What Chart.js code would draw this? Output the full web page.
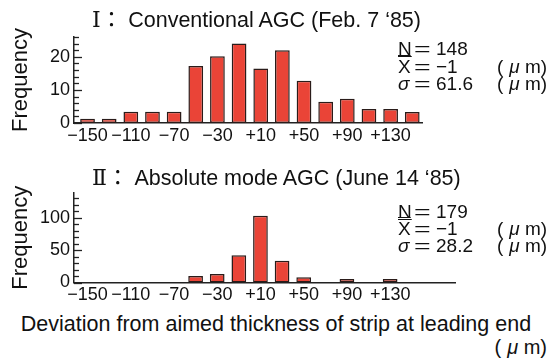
<!DOCTYPE html>
<html>
<head>
<meta charset="utf-8">
<script src="https://cdn.jsdelivr.net/npm/chart.js@4.4.1/dist/chart.umd.min.js"></script>
<style>
  body { margin: 0; background: #fff; }
  #wrap { position: relative; width: 552px; height: 358px; overflow: hidden;
          font-family: "Liberation Sans", Arial, sans-serif; color: #111; }
  .box { position: absolute; left: 0; width: 552px; height: 150px; }
  .txt { position: absolute; white-space: nowrap; line-height: 1; }
  .cjk { font-family: "Noto Sans CJK JP", sans-serif; }
  .roman { font-family: "DejaVu Serif", "Liberation Serif", serif; font-size: 22px; }
  .stat { position: absolute; font-size: 19px; line-height: 19px; white-space: nowrap; }
  .eq { display: inline-block; transform: scaleX(1.5); transform-origin: left center; }
  .mu { margin-left: 6px; }
</style>
</head>
<body>
<div id="wrap">
  <div class="box" style="top:0"><canvas id="chart1"></canvas></div>
  <div class="box" style="top:160px"><canvas id="chart2"></canvas></div>

  <div class="txt" style="left:92px;top:7px;font-size:21.5px"><span class="roman">Ⅰ</span><span class="cjk">：</span>&nbsp;Conventional AGC (Feb. 7 ‘85)</div>
  <div class="txt" style="left:92px;top:165px;font-size:21.5px"><span class="roman">Ⅱ</span><span class="cjk">：</span>&nbsp;Absolute mode AGC (June 14 ‘85)</div>

  <div id="stats1"></div>
  <div id="stats2"></div>

  <div class="txt" style="left:0;width:552px;text-align:center;top:314px;font-size:21.5px">Deviation from aimed thickness of strip at leading end</div>
  <div class="txt" style="right:5px;top:337px;font-size:20px">(<i class="mu">μ</i> m)</div>
</div>

<script>
// bin centres (μm) and tick labels on the deviation axis
const bins = [-150, -130, -110, -90, -70, -50, -30, -10, 10, 30, 50, 70, 90, 110, 130, 150];
const xTickValues = [-150, -110, -70, -30, 10, 50, 90, 130];

// frequencies
const conventionalFreq = [1.3, 1.3, 3.4, 3.4, 3.4, 17.2, 20.2, 24, 16.5, 22, 12.8, 6.4, 7.3, 4.2, 4.2, 3.3];
const absoluteFreq = [0, 0, 0, 0, 0, 10, 13, 42, 103, 33.5, 8, 0, 5.4, 0, 5.4, 0];

// y axis ticks (minor + labelled)
const yTicks1 = [0, 2, 4, 6, 8, 10, 12, 14, 16, 18, 20, 22, 24, 26];
const yLabels1 = [0, 10, 20];
const yTicks2 = [0, 10, 20, 30, 40, 50, 60, 70, 80, 90, 100, 110, 120, 130];
const yLabels2 = [0, 50, 100];

// summary statistics
const stats1 = ['148', '−1', '61.6'];
const stats2 = ['179', '−1', '28.2'];

Chart.defaults.font.family = '"Liberation Sans", Arial, sans-serif';
Chart.defaults.font.size = 18;
Chart.defaults.color = '#111';

const inwardTicks = {
  id: 'inwardTicks',
  beforeDatasetsDraw(chart, args, opts) {
    const y = chart.scales.y;
    const ctx = chart.ctx;
    ctx.save();
    ctx.strokeStyle = '#222';
    ctx.lineWidth = 1.3;
    y.ticks.forEach(t => {
      const py = Math.round(y.getPixelForValue(t.value)) + 0.5;
      const len = opts.labels.includes(t.value) ? 8 : 5;
      ctx.beginPath();
      ctx.moveTo(y.right, py);
      ctx.lineTo(y.right + len, py);
      ctx.stroke();
    });
    ctx.restore();
  }
};

function makeChart(id, freq, yMax, yTicks, yLabels, xMax, pad, xHeight) {
  const points = bins.map((b, i) => ({ x: b, y: freq[i] })).filter(p => p.y > 0);
  return new Chart(document.getElementById(id), {
    type: 'bar',
    data: {
      datasets: [{
        data: points,
        backgroundColor: '#ea4437',
        borderColor: '#2a1c1a',
        borderWidth: 1.5,
        borderSkipped: false,
        barPercentage: 0.68,
        categoryPercentage: 1
      }]
    },
    plugins: [inwardTicks],
    options: {
      responsive: true,
      maintainAspectRatio: false,
      animation: false,
      layout: { padding: pad },
      plugins: {
        legend: { display: false },
        tooltip: { enabled: false },
        inwardTicks: { labels: yLabels }
      },
      scales: {
        x: {
          type: 'linear',
          offset: false,
          min: -162.5,
          max: xMax,
          grid: { display: false, drawTicks: false },
          border: { display: true, color: '#222', width: 1.5 },
          afterBuildTicks: s => { s.ticks = xTickValues.map(v => ({ value: v })); },
          afterFit: s => { s.height = xHeight; },
          ticks: {
            autoSkip: false,
            maxRotation: 0,
            padding: 2,
            callback: v => (v > 0 ? '+' + v : '−' + Math.abs(v))
          }
        },
        y: {
          min: 0,
          max: yMax,
          grid: { display: false, drawTicks: false },
          border: { display: true, color: '#222', width: 1.5 },
          afterBuildTicks: s => { s.ticks = yTicks.map(v => ({ value: v })); },
          afterFit: s => { s.width = 74; },
          ticks: {
            autoSkip: false,
            padding: 4,
            callback: v => (yLabels.includes(v) ? String(v) : '')
          },
          title: {
            display: true,
            text: 'Frequency',
            font: { size: 22 },
            padding: { top: 8, bottom: 0 }
          }
        }
      }
    }
  });
}

makeChart('chart1', conventionalFreq, 26, yTicks1, yLabels1, 159, { top: 37, right: 130, bottom: 0, left: 0 }, 27);
makeChart('chart2', absoluteFreq, 138, yTicks2, yLabels2, 190, { top: 33, right: 97, bottom: 0, left: 0 }, 27.5);

function writeStats(el, vals, centers) {
  const names = ['<span style="text-decoration:underline">N</span>',
                 '<span style="text-decoration:overline">X</span>',
                 '<i>σ</i>'];
  let html = '';
  vals.forEach((v, i) => {
    const top = centers[i] - 9;
    html += '<div class="stat" style="left:398px;top:' + top + 'px">' + names[i] + '</div>';
    html += '<div class="stat" style="left:414px;top:' + top + 'px"><span class="eq">=</span></div>';
    html += '<div class="stat" style="left:436px;top:' + top + 'px">' + v + '</div>';
    if (i > 0) {
      html += '<div class="stat" style="left:497px;top:' + top + 'px">(<i class="mu">μ</i> m)</div>';
    }
  });
  document.getElementById(el).innerHTML = html;
}
writeStats('stats1', stats1, [48, 66, 83]);
writeStats('stats2', stats2, [211, 228, 245]);
</script>
</body>
</html>
